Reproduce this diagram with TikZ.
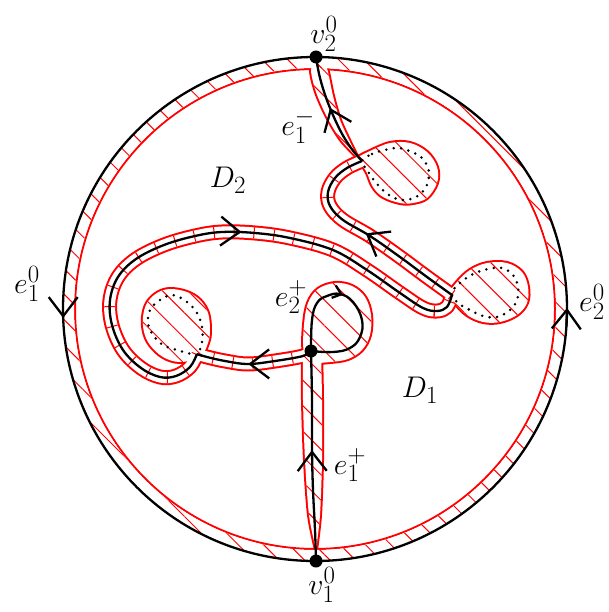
\documentclass[tikz,border=0pt]{standalone}
\usetikzlibrary{patterns.meta,decorations.markings,arrows.meta}
\begin{document}
\begin{tikzpicture}[x=1pt,y=-1pt,
  hatch/.style={pattern={Lines[angle=-45,distance=18pt,line width=1pt]},pattern color=red},
  redA/.style={draw=red,line width=4pt,fill=red,line join=round},
  ribA/.style={draw=red,line width=15pt,line join=round,line cap=round},
  ribB/.style={draw=white,line width=11pt,line join=round,line cap=round},
  ribC/.style={draw=red,line width=11pt,dash pattern=on 1pt off 19pt},
  blk/.style={draw=black,line width=2.3pt,line join=round},
  dotline/.style={draw=black,line width=2.8pt,line cap=round,dash pattern=on 0pt off 7.5pt},
  barbtip/.style={-{Straight Barb[length=19pt,width=29pt]}},
  arrat/.style={postaction={decorate},decoration={markings,mark=at position #1 with {\arrow{Straight Barb[length=19pt,width=29pt]}}}},
  arrrev/.style={postaction={decorate},decoration={markings,mark=at position #1 with {\arrowreversed{Straight Barb[length=19pt,width=29pt]}}}},
  arrsmall/.style={postaction={decorate},decoration={markings,mark=at position #1 with {\arrow{Straight Barb[length=8pt,width=13pt]}}}},
  lab/.style={font=\fontsize{24.88}{30}\selectfont,inner sep=0pt,scale=1.2},
  vdot/.style={circle,fill=black,inner sep=0pt,minimum size=13pt},
]
\useasboundingbox (0,0) rectangle (609,612);
\coordinate (C) at (315,309);
\coordinate (V2) at (316,57);
\coordinate (V1) at (316,561);
\coordinate (M) at (311,351);
\coordinate (UBp) at (362,161);
\coordinate (RBp) at (452,295);
\coordinate (LBp) at (197,354);
\coordinate (cL1) at (63.2,298);
\coordinate (cL2) at (63.2,318);
\coordinate (cR1) at (566.4,326);
\coordinate (cR2) at (567,308);

\def\PthA{plot[smooth,tension=0.6] coordinates {(V2) (320,78) (328,103) (340,130) (351,148) (UBp)}}
\def\PthB{plot[smooth,tension=0.6] coordinates {(RBp) (427,277) (400,257) (370,236) (343,220) (330,206) (328,192) (335,178) (347,168) (UBp)}}
\def\PthC{plot[smooth,tension=0.6] coordinates {(LBp) (190,367) (176,376) (160,377) (141,368) (123,350) (112,325) (110,300) (118,277) (136,259) (164,245) (195,236) (222,232) (255,233) (290,238) (333,250) (367,270) (400,293) (423,308) (437,311) (447,307) (RBp)}}
\def\PthD{plot[smooth,tension=0.6] coordinates {(M) (303,356) (275,361) (248,364) (225,361) (207,357) (LBp)}}
\def\PthE{plot[smooth,tension=0.7] coordinates {(M) (312,320) (317,303) (327,296) (340,294) (353,302) (362,320) (360,337) (350,348) (333,352) (M)}}
\def\PthF{plot[smooth,tension=0.6] coordinates {(V1) (315,530) (313,490) (312,450) (312,400) (M)}}

\def\LensTop{plot[smooth,tension=0.5] coordinates {(316,57) (311,70) (316,92) (327,117) (341,140) (358,158)} -- plot[smooth,tension=0.5] coordinates {(358,158) (350,142) (340,120) (333,96) (328,72) (324,60)} -- cycle}
\def\LensBot{plot[smooth,tension=0.5] coordinates {(303,352) (303,400) (305,460) (309,515) (316,550)} -- plot[smooth,tension=0.5] coordinates {(316,550) (320,515) (322,460) (322,400) (321,352)} -- cycle}
\def\BlobU{plot[smooth cycle,tension=0.6] coordinates {(358,158) (370,151) (390,143) (410,143) (427,152) (437,167) (437,183) (427,198) (413,203) (400,203) (383,197) (373,187) (367,173) (362,165)}}
\def\BlobR{plot[smooth cycle,tension=0.6] coordinates {(450,293) (457,282) (470,270) (487,263) (507,263) (522,272) (528,287) (527,303) (517,315) (500,322) (483,322) (467,315) (455,303)}}
\def\BlobL{plot[smooth cycle,tension=0.6] coordinates {(143,317) (147,303) (157,293) (170,289) (187,292) (200,300) (208,313) (210,330) (208,343) (200,357) (180,362) (163,357) (150,345) (144,332)}}
\def\BlobE{plot[smooth cycle,tension=0.6] coordinates {(304,352) (304,325) (308,303) (318,289) (335,283) (352,286) (365,297) (371,315) (370,335) (362,350) (348,359) (330,362) (314,362)}}

% layer A: red
\draw[red,line width=2pt] (C) circle[radius=240pt];
\filldraw[redA] \LensTop;
\filldraw[redA] \LensBot;
\filldraw[redA] \BlobU;
\filldraw[redA] \BlobR;
\filldraw[redA] \BlobL;
\filldraw[redA] \BlobE;
\draw[ribA] \PthB;
\draw[ribA] \PthC;
\draw[ribA] \PthD;
% layer B: white
\fill[white] \LensTop;
\fill[white] \LensBot;
\fill[white] \BlobU;
\fill[white] \BlobR;
\fill[white] \BlobL;
\fill[white] \BlobE;
\draw[ribB] \PthB;
\draw[ribB] \PthC;
\draw[ribB] \PthD;
\fill[white,even odd rule] (C) circle[radius=252pt] (C) circle[radius=241pt];
% layer C: hatching
\fill[hatch] \LensTop;
\fill[hatch] \LensBot;
\fill[hatch] \BlobU;
\fill[hatch] \BlobR;
\fill[hatch] \BlobL;
\fill[hatch] \BlobE;
\fill[hatch,even odd rule] (C) circle[radius=252pt] (C) circle[radius=241pt];
\draw[ribC] \PthB;
\draw[ribC] \PthC;
\draw[ribC] \PthD;
% layer D: black
\draw[dotline] plot[smooth cycle,tension=0.6] coordinates {(362,161) (372,154) (385,150) (398,148) (412,152) (423,159) (429,172) (426,187) (416,197) (402,200) (389,195) (377,184) (367,170)};
\draw[dotline] plot[smooth cycle,tension=0.6] coordinates {(452,293) (460,283) (473,274) (488,269) (502,268) (513,275) (518,287) (517,300) (510,310) (497,317) (483,316) (470,310) (458,303)};
\draw[dotline] plot[smooth cycle,tension=0.6] coordinates {(197,355) (202,342) (202,327) (197,313) (187,302) (173,295) (160,300) (150,310) (148,323) (153,335) (163,345) (177,350) (188,353)};
\draw[blk] (C) circle[radius=252pt];
\draw[blk,barbtip] (cL1) -- (cL2);
\draw[blk,barbtip] (cR1) -- (cR2);
\draw[blk,arrrev=53pt] \PthA;
\draw[blk,arrat=106pt] \PthB;
\draw[blk,arrat=308pt] \PthC;
\draw[blk,arrat=65pt] \PthD;
\draw[blk,arrsmall=78pt] \PthE;
\draw[blk,arrat=111pt] \PthF;
\node[vdot] (nV2) at (V2) {};
\node[vdot] (nV1) at (V1) {};
\node[vdot] (nM) at (M) {};
\node[lab] (lv2) at (324,34) {$v_2^0$};
\node[lab] (lv1) at (322,585) {$v_1^0$};
\node[lab] (le10) at (27,284) {$e_1^0$};
\node[lab] (le20) at (592,302) {$e_2^0$};
\node[lab] (le1m) at (298,126) {$e_1^-$};
\node[lab] (le1p) at (350,465) {$e_1^+$};
\node[lab] (le2p) at (291,297) {$e_2^+$};
\node[lab] (lD2) at (228,180) {$D_2$};
\node[lab] (lD1) at (420,390) {$D_1$};
\end{tikzpicture}
\end{document}
